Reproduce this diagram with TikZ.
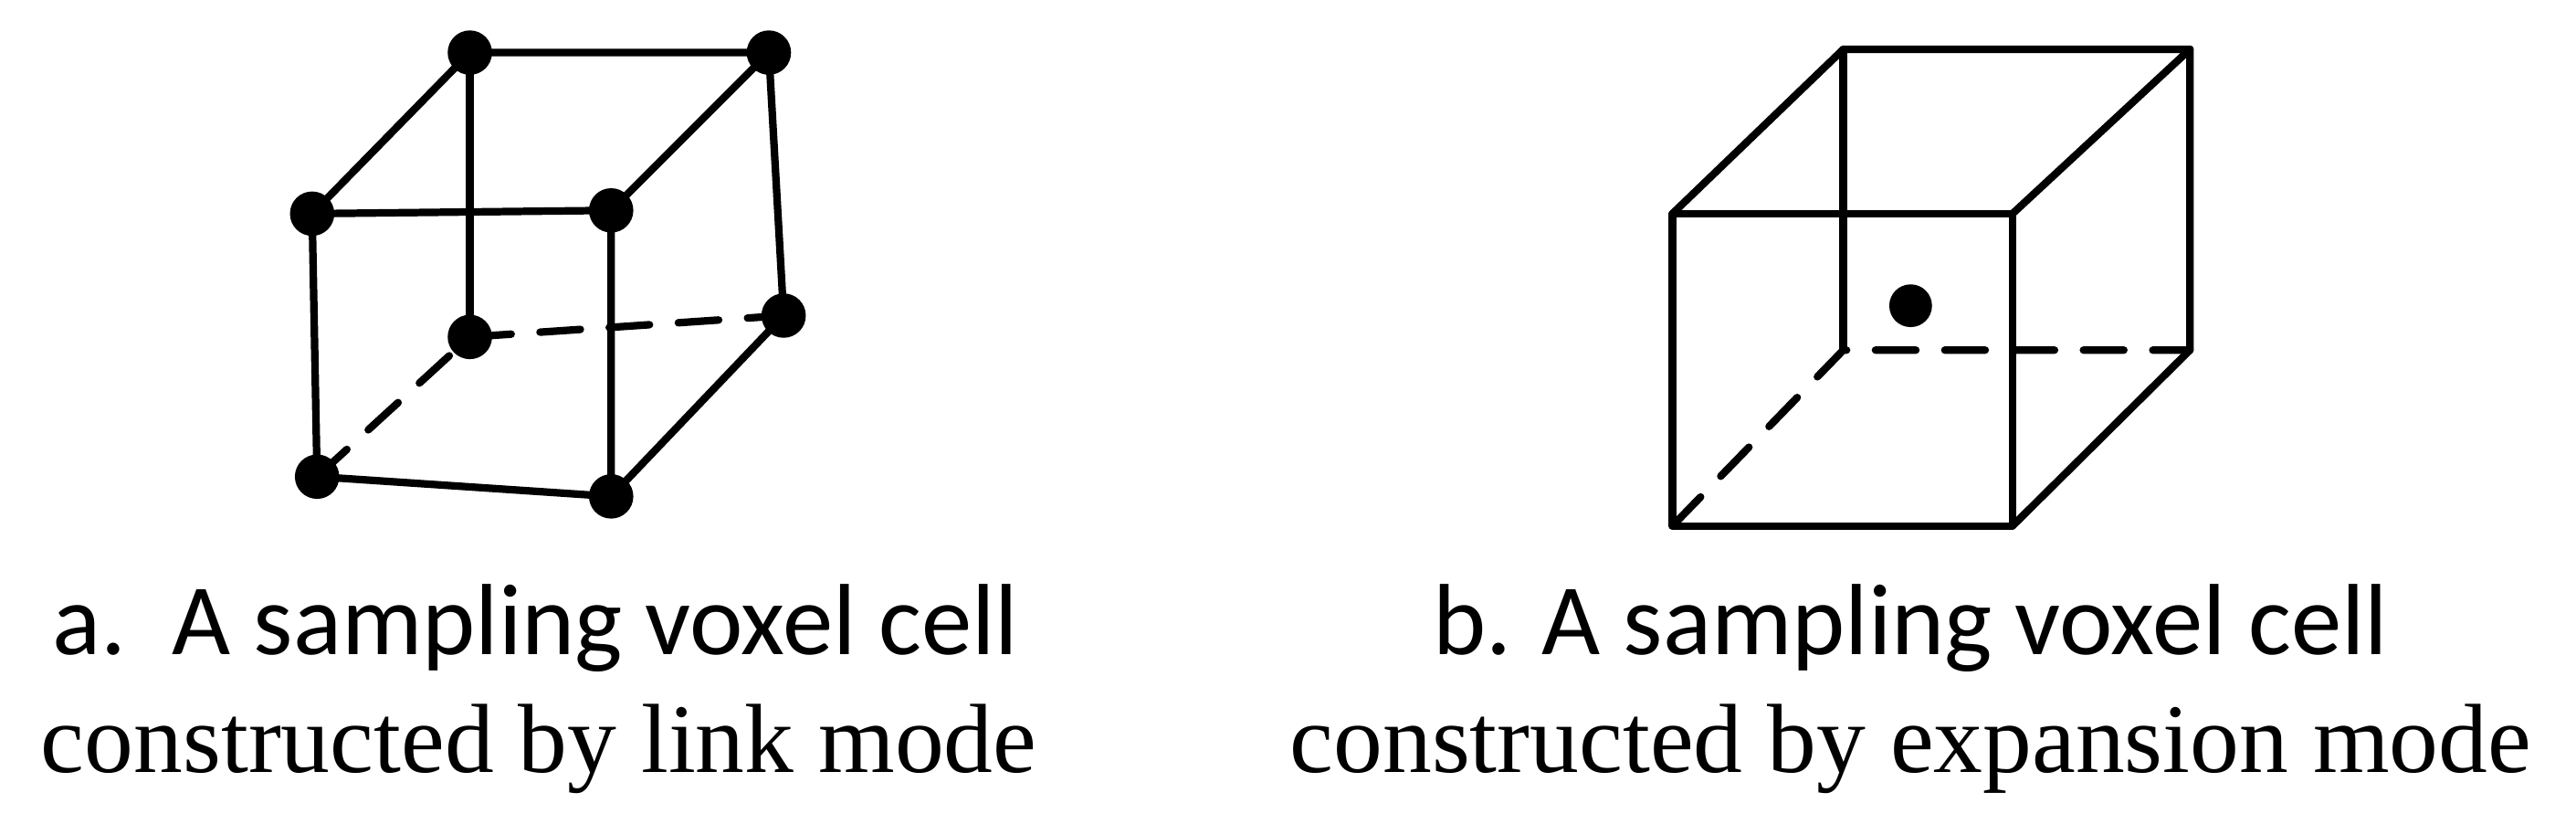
\documentclass[tikz,border=0pt]{standalone}
\usepackage{fontspec}
\setmainfont{Liberation Serif}
\newfontfamily\capsans{Carlito}
\begin{document}
\begin{tikzpicture}[x=0.01cm,y=-0.01cm,
  edge/.style={line width=1.3pt,line cap=round,line join=round},
  hid/.style={edge,dashed,dash pattern=on 7pt off 5pt},
  dot/.style={circle,fill=black,inner sep=0pt,minimum size=0.27cm},
  lab/.style={font=\fontsize{17}{20}\selectfont,inner sep=0pt,anchor=base}]
\useasboundingbox (0,0) rectangle (1568,508);
% cube a
\coordinate (a1) at (190,130); \coordinate (a2) at (372,128);
\coordinate (a3) at (372,302); \coordinate (a4) at (193,290);
\coordinate (a5) at (286,32);  \coordinate (a6) at (468,32);
\coordinate (a7) at (477,192); \coordinate (a8) at (286,205);
\draw[edge] (a4)--(a1)--(a2)--(a3)--(a4);
\draw[edge] (a1)--(a5)--(a6)--(a2);
\draw[edge] (a6)--(a7)--(a3);
\draw[edge] (a5)--(a8);
\draw[hid] (a4)--(a8)--(a7);
\foreach \p in {a1,a2,a3,a4,a5,a6,a7,a8} \node[dot] (d\p) at (\p) {};
% cube b
\coordinate (b1) at (1018,130); \coordinate (b2) at (1225,130);
\coordinate (b3) at (1225,320); \coordinate (b4) at (1018,320);
\coordinate (b5) at (1122,30);  \coordinate (b6) at (1333,30);
\coordinate (b7) at (1333,213); \coordinate (b8) at (1122,213);
\draw[edge] (b4)--(b1)--(b2)--(b3)--(b4);
\draw[edge] (b1)--(b5)--(b6)--(b2);
\draw[edge] (b6)--(b7)--(b3);
\draw[edge] (b5)--(b8);
\draw[hid] (b4)--(b8)--(b7);
\node[dot,minimum size=0.26cm] (bc) at (1163,186) {};
% labels
\node[lab,font=\capsans\fontsize{17.5}{20}\selectfont] (ta1) at (326,398) {a.\ \ A sampling voxel cell};
\node[lab] (ta2) at (328,470) {constructed by link mode};
\node[lab,font=\capsans\fontsize{17.5}{20}\selectfont] (tb1) at (1163,398) {b. A sampling voxel cell};
\node[lab] (tb2) at (1163,470) {constructed by expansion mode};
\end{tikzpicture}
\end{document}
